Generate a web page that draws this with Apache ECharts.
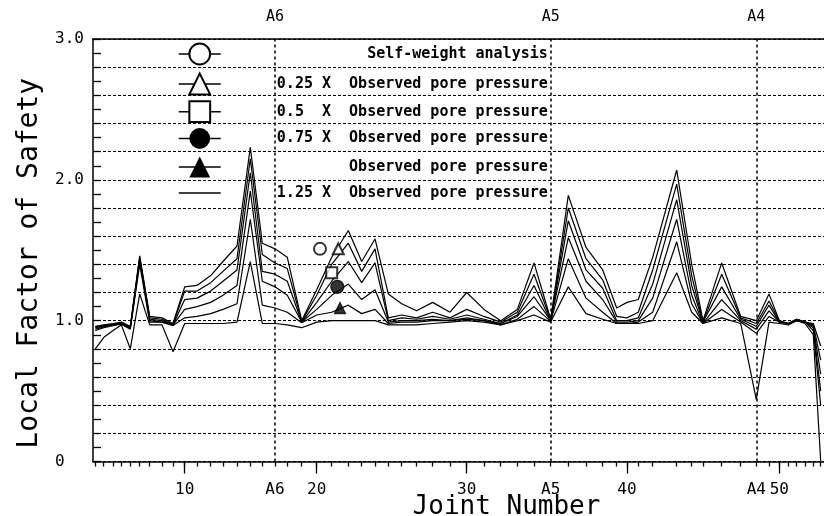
<!DOCTYPE html>
<html><head><meta charset="utf-8">
<script src="https://cdn.jsdelivr.net/npm/echarts@6/dist/echarts.min.js"></script>
<style>html,body{margin:0;padding:0;background:#fff}#c{width:824px;height:516px}</style>
</head><body><div id="c"></div>
<script>
const jointNumbers = [1,2,3,4,5,6,7,8,9,10,11,12,13,14,15,16,17,18,19,20,21,22,23,24,25,26,27,28,29,30,31,32,33,34,35,36,37,38,39,40,41,42,43,44,45,46,47,48,49,50,51,52,53,54,55];
const jointChainage = [2.3,10.7,20,28.3,37.3,46.7,56.7,69,80,91.7,104,117.7,130,144,157.3,169.3,182,194.3,208.7,223.7,238.7,255.3,268.7,282,295.3,308.7,323.5,339.7,357,373.7,391,407.7,424.3,441,457.7,475.3,493,509.7,523.7,534,545.3,559.7,583.7,598.7,610,628.7,647.7,663.3,676,686.3,695.3,703.7,712,720.3,727.7];

const seriesNames = [
  'Self-weight analysis',
  '0.25 X  Observed pore pressure',
  '0.5  X  Observed pore pressure',
  '0.75 X  Observed pore pressure',
  'Observed pore pressure',
  '1.25 X  Observed pore pressure'
];

const selfWeight = [0.96,0.97,0.98,0.99,0.96,1.46,1.03,1.02,0.98,1.24,1.25,1.32,1.42,1.53,2.23,1.55,1.51,1.45,1.00,1.22,1.45,1.64,1.42,1.58,1.19,1.12,1.07,1.13,1.06,1.20,1.08,1.00,1.08,1.41,1.01,1.89,1.52,1.36,1.09,1.13,1.15,1.45,2.07,1.40,1.00,1.41,1.03,1.00,1.19,1.00,0.98,1.01,0.99,0.98,0.82];
const pore025 = [0.955,0.965,0.975,0.985,0.955,1.45,1.02,1.01,0.975,1.21,1.21,1.27,1.35,1.44,2.15,1.47,1.41,1.37,0.995,1.18,1.40,1.55,1.35,1.51,1.02,1.04,1.02,1.06,1.02,1.08,1.03,0.99,1.06,1.33,1.005,1.80,1.44,1.29,1.03,1.02,1.06,1.36,1.97,1.32,0.99,1.33,1.02,0.98,1.14,1.00,0.98,1.01,0.99,0.97,0.72];
const pore050 = [0.95,0.96,0.97,0.98,0.95,1.44,1.01,1.00,0.97,1.15,1.16,1.21,1.28,1.36,2.05,1.35,1.33,1.28,0.99,1.13,1.28,1.42,1.27,1.41,1.00,1.02,1.01,1.03,1.01,1.04,1.01,0.98,1.04,1.25,1.00,1.71,1.36,1.23,1.00,1.00,1.02,1.26,1.86,1.25,0.99,1.24,1.01,0.96,1.11,0.99,0.98,1.01,0.99,0.96,0.62];
const pore075 = [0.94,0.955,0.97,0.98,0.945,1.43,1.00,0.99,0.97,1.08,1.10,1.13,1.18,1.25,1.92,1.28,1.24,1.18,0.99,1.08,1.18,1.26,1.15,1.22,0.99,1.00,1.00,1.01,1.00,1.02,1.00,0.98,1.03,1.17,1.00,1.59,1.28,1.15,0.99,0.99,1.00,1.16,1.72,1.18,0.98,1.15,1.00,0.94,1.07,0.99,0.98,1.00,0.99,0.95,0.50];
const pore100 = [0.93,0.95,0.965,0.975,0.94,1.40,0.99,0.99,0.965,1.02,1.03,1.05,1.08,1.12,1.72,1.11,1.09,1.06,0.985,1.04,1.06,1.11,1.05,1.08,0.98,0.99,0.99,1.00,1.00,1.01,1.00,0.97,1.01,1.10,0.995,1.44,1.16,1.06,0.98,0.98,0.99,1.06,1.56,1.12,0.98,1.08,0.99,0.91,1.03,0.99,0.98,1.00,0.99,0.93,0.40];
const pore125 = [0.80,0.88,0.93,0.97,0.80,1.19,0.97,0.97,0.78,0.98,0.98,0.98,0.98,0.99,1.42,0.98,0.98,0.97,0.95,0.99,1.00,1.00,1.00,1.00,0.97,0.97,0.97,0.98,0.99,1.00,0.99,0.97,1.00,1.04,0.99,1.24,1.05,1.01,0.98,0.98,0.98,1.00,1.34,1.06,0.98,1.02,0.98,0.44,0.99,0.98,0.97,1.00,0.98,0.90,0.00];
const allSeriesValues = [selfWeight, pore025, pore050, pore075, pore100, pore125];

// Bottom tick labels (joint number -> text)
const tickLabelJoints = [10,17,20,30,35,40,48,50];
const tickLabelTexts = ['10','A6','20','30','A5','40','A4','50'];
const majorTickJoints = [10,20,30,40,50];
const anchorJoints = [17,35,48];
const anchorNames = ['A6','A5','A4'];

// Curve-identifying symbols placed beside the curves (chainage, factor of safety)
const curveTagChainage = [227, 245.3, 238.7, 244.3, 247];
const curveTagValues = [1.51, 1.51, 1.34, 1.24, 1.09];

// ---- styling / layout (not data) ----
const FONT = 'DejaVu Sans Mono';
const legendSymbols = ['emptyCircle','emptyTriangle','emptyRect','circle','triangle','line'];
const legendRowCenters = [53, 83, 110.7, 138.5, 167, 195];
const tagSymbols = ['emptyCircle','emptyTriangle','emptyRect','circle','triangle'];
const tagSizes = [12,11,11,13,11];

const chainOf = j => jointChainage[j - 1];
const labelChainage = tickLabelJoints.map(chainOf);
const labelFor = (v, list, texts) => {
  for (let i = 0; i < list.length; i++) if (Math.abs(list[i] - v) < 0.01) return texts[i];
  return '';
};
const xMax = 731;

const chart = echarts.init(document.getElementById('c'), null, {renderer: 'canvas'});

const series = allSeriesValues.map((vals, i) => ({
  type: 'line',
  name: seriesNames[i],
  xAxisIndex: 0, yAxisIndex: 0,
  data: jointChainage.map((c, k) => [c, vals[k]]),
  symbol: legendSymbols[i],
  showSymbol: false,
  lineStyle: {color: '#000', width: 1.2},
  itemStyle: {color: '#000'},
  silent: true,
  animation: false,
  z: 3
}));
series[0].markLine = {
  silent: true, symbol: 'none', animation: false,
  label: {show: false},
  lineStyle: {color: '#000', type: [3, 3], width: 1.5},
  data: anchorJoints.map(j => ({xAxis: chainOf(j)}))
};
series.push({
  type: 'scatter', name: 'tags', xAxisIndex: 0, yAxisIndex: 0, silent: true, animation: false,
  itemStyle: {color: '#000', borderColor: '#000', borderWidth: 1.3},
  data: curveTagChainage.map((c, i) => ({value: [c, curveTagValues[i]], symbol: tagSymbols[i], symbolSize: tagSizes[i]})),
  z: 4
});

const ITEM_H = 26;
const legends = seriesNames.map((name, i) => ({
  data: [name],
  orient: 'vertical', left: 178,
  top: legendRowCenters[i] - (legendSymbols[i] === 'line' ? 9.5 : 0.4 * ITEM_H),
  padding: 0,
  itemWidth: 42, itemHeight: ITEM_H, itemGap: 0,
  selectedMode: false,
  formatter: n => '{r|' + n + '}',
  textStyle: {
    fontFamily: FONT, fontWeight: 'bold', fontSize: 15, color: '#000',
    rich: {r: {width: 322, align: 'right', fontFamily: FONT, fontWeight: 'bold', fontSize: 15, color: '#000'}}
  },
  lineStyle: {width: 1.5}
}));

const gridBox = {left: 93, right: 0, top: 39, bottom: 54.5, outerBoundsMode: 'none', containLabel: false};

const option = {
  backgroundColor: '#fff',
  animation: false,
  grid: [Object.assign({}, gridBox), Object.assign({}, gridBox)],
  legend: legends,
  xAxis: [
    {
      type: 'value', gridIndex: 0, position: 'bottom', min: 0, max: xMax,
      axisLine: {show: true, onZero: false, lineStyle: {color: '#000', width: 1.5}},
      axisTick: {show: true, customValues: jointChainage, length: 5, lineStyle: {color: '#000', width: 1.3}},
      axisLabel: {
        customValues: labelChainage, margin: 20, fontFamily: FONT, fontSize: 16, color: '#000',
        formatter: v => labelFor(v, labelChainage, tickLabelTexts)
      },
      splitLine: {show: false},
      name: 'Joint Number', nameLocation: 'middle', nameGap: 33, nameMoveOverlap: false,
      nameTextStyle: {fontFamily: FONT, fontSize: 26, color: '#000', padding: [0, 0, 0, 96]}
    },
    {
      type: 'value', gridIndex: 0, position: 'top', min: 0, max: xMax,
      axisLine: {show: true, onZero: false, lineStyle: {color: '#000', width: 1.5}},
      axisTick: {show: false},
      axisLabel: {
        customValues: anchorJoints.map(chainOf), margin: 14, fontFamily: FONT, fontSize: 15, color: '#000',
        formatter: v => labelFor(v, anchorJoints.map(chainOf), anchorNames)
      },
      splitLine: {show: false}
    },
    {
      type: 'value', gridIndex: 1, position: 'bottom', min: 0, max: xMax,
      axisLine: {show: false, onZero: false},
      axisTick: {show: true, customValues: majorTickJoints.map(chainOf), length: 12, lineStyle: {color: '#000', width: 1.3}},
      axisLabel: {show: false},
      splitLine: {show: false}
    }
  ],
  yAxis: [
    {
      type: 'value', gridIndex: 0, min: 0, max: 3, interval: 0.2,
      axisLine: {show: true, onZero: false, lineStyle: {color: '#000', width: 1.5}},
      axisTick: {show: true, inside: true, length: 8, lineStyle: {color: '#000', width: 1.3}},
      minorTick: {show: true, splitNumber: 2, length: 8, lineStyle: {color: '#000', width: 1.3}},
      axisLabel: {
        align: 'left', margin: 38, fontFamily: FONT, fontSize: 16, color: '#000',
        formatter: v => Math.abs(v - Math.round(v)) < 1e-6 ? (Math.round(v) === 0 ? '0' : v.toFixed(1)) : ''
      },
      splitLine: {show: true, lineStyle: {color: '#000', type: [3, 2], width: 1.1}},
      name: 'Local Factor of Safety', nameLocation: 'middle', nameGap: 47,
      nameTextStyle: {fontFamily: FONT, fontSize: 28, color: '#000', padding: [0, 26, 0, 0]}
    },
    {
      type: 'value', gridIndex: 1, min: 0, max: 3, show: false
    }
  ],
  series: series
};
chart.setOption(option);
</script></body></html>
